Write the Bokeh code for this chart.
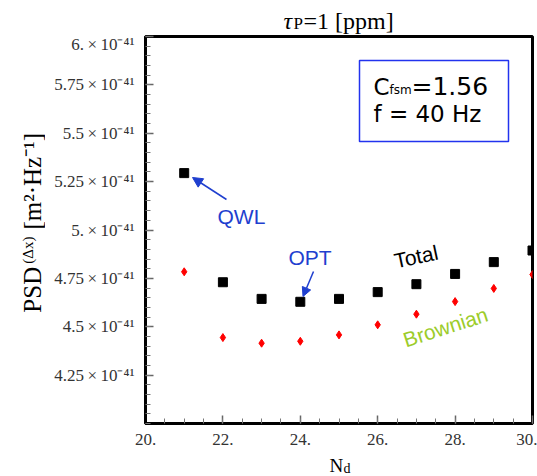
import math
from bokeh.plotting import figure
from bokeh.layouts import column, row
from bokeh.models import (Range1d, FixedTicker, CustomJSTickFormatter, Label,
                          Arrow, NormalHead, BoxAnnotation)
from bokeh.embed import file_html
from bokeh.resources import INLINE

# ---- data (PSD values in units of 1e-41 m^2/Hz) ----
n_d = [21, 22, 23, 24, 25, 26, 27, 28, 29, 30]
psd_total = [5.294, 4.730, 4.644, 4.629, 4.644, 4.679, 4.720, 4.773, 4.834, 4.894]
psd_brownian = [4.784, 4.444, 4.415, 4.425, 4.458, 4.510, 4.565, 4.630, 4.698, 4.770]
x_ticks = [20, 22, 24, 26, 28, 30]
y_ticks = [4.25, 4.5, 4.75, 5.0, 5.25, 5.5, 5.75, 6.0]
x_minor = [round(20 + 0.5 * i, 2) for i in range(21)]
y_minor = [round(4.0 + 0.05 * i, 2) for i in range(41)]

SERIF = "Liberation Serif"
SANS = "Liberation Sans"
BOXFONT = "DejaVu Sans"
BLUE = "#1f3fcf"
GREEN = "#9ccc2a"

W, H = 537, 476
TITLE_H = 34          # strip for the title
YLAB_W = 45           # strip for the y-axis label
FL, FT, FW, FH = 145, 36, 387, 387   # frame in page pixels
BOT = 30              # bottom border of main figure (tick labels)
MAIN_W = W - YLAB_W
MAIN_H = (FT - TITLE_H) + FH + BOT
XLAB_H = H - TITLE_H - MAIN_H
X0, X1, Y0, Y1 = 20, 30, 4.0, 6.0
BASE_FIX = 0.26       # baseline correction (fraction of font size)


def dx(X):
    return X0 + (X - FL) * (X1 - X0) / FW


def dy(Y):
    return Y1 - (Y - FT) * (Y1 - Y0) / FH


p = figure(width=MAIN_W, height=MAIN_H, x_range=Range1d(X0, X1), y_range=Range1d(Y0, Y1),
           output_backend="svg", toolbar_location=None,
           min_border_left=FL - YLAB_W, min_border_right=W - FL - FW,
           min_border_top=FT - TITLE_H, min_border_bottom=BOT)

p.xgrid.grid_line_color = None
p.ygrid.grid_line_color = None
p.outline_line_color = "black"
p.outline_line_width = 3

for ax in (p.xaxis[0], p.yaxis[0]):
    ax.axis_line_width = 3
    ax.axis_line_color = "black"
    ax.major_tick_in = 8
    ax.major_tick_out = 0
    ax.minor_tick_in = 5
    ax.minor_tick_out = 0
    ax.major_tick_line_color = "#666666"
    ax.major_tick_line_width = 1.5
    ax.minor_tick_line_color = "#777777"
    ax.minor_tick_line_width = 1
    ax.major_label_text_font = SERIF
    ax.major_label_text_font_size = "17px"
    ax.major_label_text_color = "#333333"
    ax.major_label_standoff = 10
p.yaxis.major_label_standoff = 11

p.xaxis.ticker = FixedTicker(ticks=x_ticks, minor_ticks=x_minor)
p.yaxis.ticker = FixedTicker(ticks=y_ticks, minor_ticks=y_minor)
p.xaxis.formatter = CustomJSTickFormatter(code="return tick.toFixed(0) + '.';")
p.yaxis.formatter = CustomJSTickFormatter(code="""
const v = Math.round(tick * 100) / 100;
const s = (Math.abs(v - Math.round(v)) < 1e-9) ? v.toFixed(0) + '.' : String(v);
return s + '\u2009\u00d7\u200910\u207b\u2074\u00b9';
""")

# ---- data marks ----
p.scatter(n_d, psd_total, marker="square", size=9, color="black")
p.scatter(n_d, psd_brownian, marker="diamond", size=8, color="#ff0000")


def lab(fig, text, X, Y, size, font=SANS, color="black", angle=0.0, style="normal",
        main=False):
    """X, Y: wanted baseline start in the figure's pixel space (page pixels for main)."""
    s = BASE_FIX * size
    X = X - s * math.sin(angle)
    Y = Y - s * math.cos(angle)
    if main:
        X, Y = dx(X), dy(Y)
    fig.add_layout(Label(text=text, x=X, y=Y, text_font=font, text_font_size=f"{size}px",
                         text_color=color, angle=angle, text_align="left",
                         text_font_style=style, text_baseline="alphabetic"))


def text_fig(w, h):
    f = figure(width=w, height=h, x_range=Range1d(0, w), y_range=Range1d(h, 0),
               x_axis_type=None, y_axis_type=None, toolbar_location=None,
               output_backend="svg", min_border=0)
    f.outline_line_color = None
    return f


# ---- parameter box (inside the frame) ----
p.add_layout(BoxAnnotation(left=dx(359), right=dx(508), top=dy(60), bottom=dy(141),
                           fill_color=None, fill_alpha=0, line_color="#2233ee",
                           line_alpha=1.0, line_width=1.5))
lab(p, "C", 373, 92, 23, BOXFONT, main=True)
lab(p, "fsm", 389, 93, 12, BOXFONT, main=True)
lab(p, "=1.56", 411, 92, 25, BOXFONT, main=True)
lab(p, "f = 40 Hz", 373, 119, 23, BOXFONT, main=True)

# ---- annotations ----
lab(p, "QWL", 217, 221, 21, color=BLUE, main=True)
p.add_layout(Arrow(end=NormalHead(size=10, fill_color=BLUE, line_color=BLUE),
                   x_start=dx(226), y_start=dy(199), x_end=dx(192), y_end=dy(177),
                   line_color=BLUE, line_width=1.5))
lab(p, "OPT", 288, 262, 21, color=BLUE, main=True)
p.add_layout(Arrow(end=NormalHead(size=9, fill_color=BLUE, line_color=BLUE),
                   x_start=dx(313), y_start=dy(271), x_end=dx(302.5), y_end=dy(296),
                   line_color=BLUE, line_width=1.5))
lab(p, "Total", 395, 266, 21, angle=0.21, main=True)
lab(p, "Brownian", 405, 345, 21, color=GREEN, angle=0.31, main=True)

# ---- title strip: tau_P = 1 [ppm] ----
t = text_fig(W, TITLE_H)
lab(t, "\u03c4", 283, 27, 24, SERIF, style="italic")
lab(t, "P", 293, 27, 17, SERIF)
lab(t, "=1 [ppm]", 303, 27, 24, SERIF)

# ---- y label strip: PSD^(Δx) [m²·Hz⁻¹] ----
yl = text_fig(YLAB_W, MAIN_H)
ANG = math.pi / 2
lab(yl, "PSD", 38, 333 - TITLE_H, 25, SERIF, angle=ANG)
lab(yl, "(\u0394x)", 31, 280 - TITLE_H, 15, SERIF, angle=ANG)
lab(yl, "[m\u00b2\u00b7Hz\u207b\u00b9]", 38, 243 - TITLE_H, 25, SERIF, angle=ANG)

# ---- x label strip: N_d ----
xl = text_fig(W, XLAB_H)
XL_TOP = TITLE_H + MAIN_H
lab(xl, "N", 329, 470 - XL_TOP, 19, SERIF)
lab(xl, "d", 343, 472 - XL_TOP, 14, SERIF)

layout = column(t, row(yl, p, spacing=0), xl, spacing=0)

open("out.html", "w").write(file_html(layout, INLINE))
